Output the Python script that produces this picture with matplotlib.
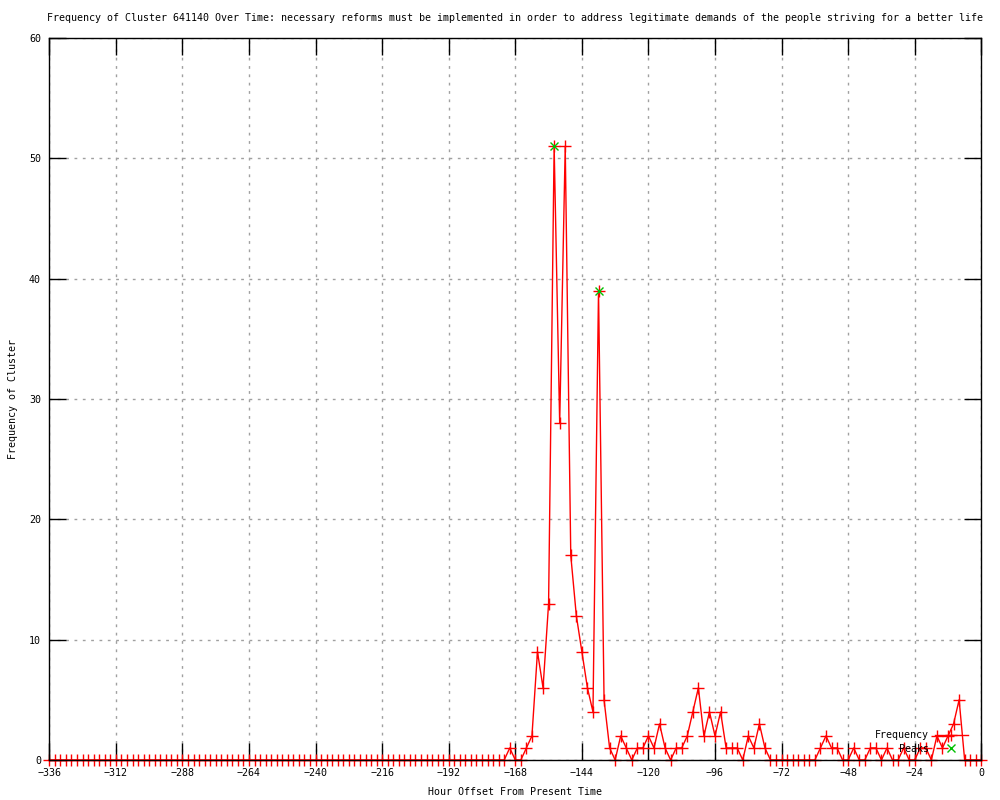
import numpy as np
import matplotlib
matplotlib.use("Agg")
import matplotlib.pyplot as plt

plt.rcParams['font.family'] = ['DejaVu Sans Mono']
plt.rcParams['font.size'] = 7.2

# hour offsets, every 2 hours
hours = np.arange(-336, 1, 2)

# non-zero region (-170 .. 0)
tail = [1, 0, 0, 1, 2, 9, 6, 13, 51, 28, 51, 17, 12, 9, 6, 4, 39, 5, 1, 0,
        2, 1, 0, 1, 1, 2, 1, 3, 1, 0, 1, 1, 2, 4, 6, 2, 4, 2, 4, 1,
        1, 1, 0, 2, 1, 3, 1, 0, 0, 0, 0, 0, 0, 0, 0, 0, 1, 2, 1, 1,
        0, 0, 1, 0, 0, 1, 1, 0, 1, 0, 0, 1, 0, 0, 1, 1, 0, 2, 1, 2,
        3, 5, 0, 0, 0, 0]
freq = [0] * (len(hours) - len(tail)) + tail

peak_hours = [-154, -138]
peak_vals = [51, 39]

fig = plt.figure(figsize=(10, 8), dpi=100)
ax = fig.add_axes([0.0493, 0.05, 0.932, 0.9025])

ax.plot(hours, freq, color='red', lw=1, marker='+', ms=9, mew=1,
        label='Frequency', clip_on=False, zorder=2)
ax.plot(peak_hours, peak_vals, ls='none', marker='x', ms=6, mew=1,
        color='#00c000', label='Peaks', zorder=3)

ax.set_xlim(-336, 0)
ax.set_ylim(0, 60)
ax.set_xticks(np.arange(-336, 1, 24))
ax.set_yticks(np.arange(0, 61, 10))
ax.tick_params(direction='in', length=12, width=1, top=True, right=True,
               labelsize=7.2, pad=6)
ax.grid(True, color='#a0a0a0', ls=(0, (2, 4)), lw=1)
for s in ax.spines.values():
    s.set_linewidth(1)
    s.set_zorder(4)

ax.set_title('Frequency of Cluster 641140 Over Time: necessary reforms must be '
             'implemented in order to address legitimate demands of the people '
             'striving for a better life', fontsize=7.2, pad=12)
ax.set_xlabel('Hour Offset From Present Time', fontsize=7.2, labelpad=6)
ax.set_ylabel('Frequency of Cluster', fontsize=7.2, labelpad=8)

leg = ax.legend(loc='lower right', bbox_to_anchor=(0.995, -0.004), frameon=False,
                markerfirst=False, handlelength=3.3, handletextpad=0.6,
                labelspacing=0.35, fontsize=7.2)

fig.savefig('out.png', dpi=100)
